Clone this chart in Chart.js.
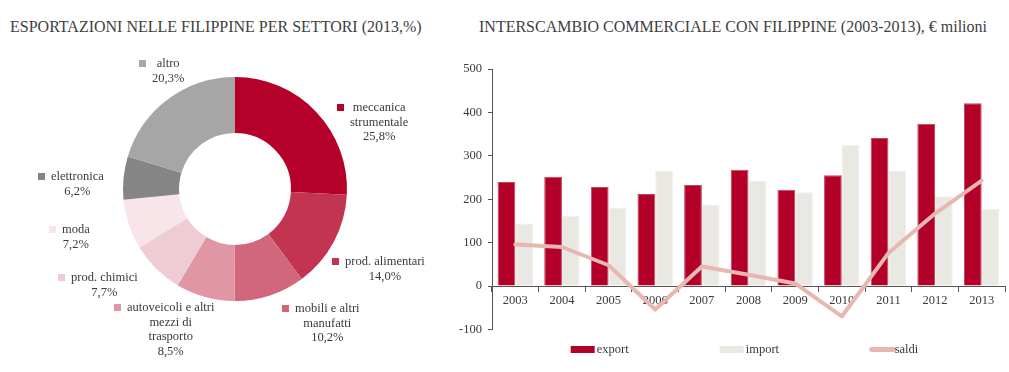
<!DOCTYPE html>
<html>
<head>
<meta charset="utf-8">
<script src="https://cdn.jsdelivr.net/npm/chart.js@4/dist/chart.umd.min.js"></script>
<style>
  body { margin: 0; background: #fff; font-family: "Liberation Serif", serif; }
  #wrap { position: relative; width: 1009px; height: 372px; overflow: hidden; }
  .titolo { position: absolute; top: 18px; font-size: 16px; line-height: 18px; color: #404040; white-space: nowrap; }
  #box1 { position: absolute; left: 0; top: 0; width: 470px; height: 372px; }
  #box2 { position: absolute; left: 440px; top: 0; width: 569px; height: 372px; }
</style>
</head>
<body>
<div id="wrap">
  <div class="titolo" style="left:10px">ESPORTAZIONI NELLE FILIPPINE PER SETTORI (2013,%)</div>
  <div class="titolo" style="left:479px">INTERSCAMBIO COMMERCIALE CON FILIPPINE (2003-2013), € milioni</div>
  <div id="box1"><canvas id="torta"></canvas></div>
  <div id="box2"><canvas id="barre"></canvas></div>
</div>
<script>
// Dati - torta settori
const settori = [
  ['meccanica', 'strumentale'],
  ['prod. alimentari'],
  ['mobili e altri', 'manufatti'],
  ['autoveicoli e altri', 'mezzi di', 'trasporto'],
  ['prod. chimici'],
  ['moda'],
  ['elettronica'],
  ['altro']
];
const quote = [25.8, 14.0, 10.2, 8.5, 7.7, 7.2, 6.2, 20.3];
const coloriSettori = ['#B5002A', '#C2344F', '#D1677B', '#E096A5', '#EFCCD3', '#F7E5E9', '#858585', '#A6A6A6'];

// Dati - interscambio
const anni = ['2003', '2004', '2005', '2006', '2007', '2008', '2009', '2010', '2011', '2012', '2013'];
const esportazioni = [240, 252, 228, 212, 233, 268, 222, 255, 341, 374, 421];
const importazioni = [144, 162, 180, 266, 188, 242, 216, 325, 265, 207, 178];
const saldi = [96, 90, 48, -54, 45, 26, 6, -70, 76, 167, 243];
const tickY = [-100, 0, 100, 200, 300, 400, 500];

// posizione etichette della torta (quadratino, prima riga)
const posEtichette = [[337, 108], [332, 262], [282, 309], [114, 308], [58, 278], [49, 230], [38, 177], [139, 64]];

const FONT = '"Liberation Serif", "Times New Roman", serif';
const TESTO = '#3a3a3a';

Chart.defaults.font.family = FONT;
Chart.defaults.animation = false;

// etichette attorno alla torta
const etichettePlugin = {
  id: 'etichette',
  afterDraw(chart) {
    const ctx = chart.ctx;
    const ds = chart.data.datasets[0];
    ctx.save();
    ctx.font = '12.5px ' + FONT;
    ctx.textBaseline = 'middle';
    ctx.textAlign = 'center';
    chart.data.labels.forEach((righe, i) => {
      const [qx, qy] = posEtichette[i];
      const linee = righe.concat(ds.data[i].toFixed(1).replace('.', ',') + '%');
      const largh = Math.max(...linee.map(l => ctx.measureText(l).width));
      ctx.fillStyle = ds.backgroundColor[i];
      ctx.fillRect(qx, qy - 4, 7, 7);
      const cx = qx + 7 + 6 + largh / 2;
      ctx.fillStyle = TESTO;
      linee.forEach((l, k) => ctx.fillText(l, cx, qy + k * 14.5));
    });
    ctx.restore();
  }
};

new Chart(document.getElementById('torta'), {
  type: 'doughnut',
  data: {
    labels: settori,
    datasets: [{
      data: quote,
      backgroundColor: coloriSettori,
      borderWidth: 0,
      hoverOffset: 0
    }]
  },
  options: {
    responsive: true,
    maintainAspectRatio: false,
    cutout: '50%',
    layout: { padding: { top: 77, bottom: 71, left: 0, right: 0 } },
    plugins: { legend: { display: false }, tooltip: { enabled: false } }
  },
  plugins: [etichettePlugin]
});

// legenda sotto il grafico a barre
const legendaPlugin = {
  id: 'legenda',
  afterDraw(chart) {
    const ctx = chart.ctx;
    const a = chart.chartArea;
    const voci = chart.data.datasets;
    const passo = 149;
    const y = a.bottom + 20;
    ctx.save();
    ctx.font = '12.5px ' + FONT;
    ctx.textBaseline = 'middle';
    ctx.textAlign = 'left';
    const ultima = 26 + ctx.measureText(voci[voci.length - 1].label).width;
    const x0 = (a.left + a.right) / 2 - (passo * (voci.length - 1) + ultima) / 2 - 4;
    voci.forEach((ds, i) => {
      const bx = x0 + i * passo;
      if (ds.type === 'line') {
        ctx.strokeStyle = ds.borderColor;
        ctx.lineWidth = 5;
        ctx.lineCap = 'round';
        ctx.beginPath();
        ctx.moveTo(bx + 3, y);
        ctx.lineTo(bx + 25, y);
        ctx.stroke();
      } else {
        ctx.fillStyle = ds.backgroundColor;
        ctx.fillRect(bx, y - 3.5, 24, 7);
      }
      ctx.fillStyle = TESTO;
      ctx.fillText(ds.label, bx + 26, y);
    });
    ctx.restore();
  }
};

new Chart(document.getElementById('barre'), {
  data: {
    labels: anni,
    datasets: [
      { type: 'bar', label: 'export', data: esportazioni, backgroundColor: '#B30029', borderColor: '#C8435D', borderWidth: { top: 1, left: 1, right: 1, bottom: 0 }, order: 1 },
      { type: 'bar', label: 'import', data: importazioni, backgroundColor: '#E9E8E3', borderColor: '#F0EFEB', borderWidth: { top: 1, left: 1, right: 1, bottom: 0 }, order: 1 },
      {
        type: 'line', label: 'saldi', data: saldi, borderColor: '#E9B7B1', borderWidth: 4,
        pointRadius: 0, tension: 0, borderJoinStyle: 'round', borderCapStyle: 'round', order: 0
      }
    ]
  },
  options: {
    responsive: true,
    maintainAspectRatio: false,
    layout: { padding: { top: 69, bottom: 42.5, left: 0, right: 4 } },
    datasets: { bar: { categoryPercentage: 0.76, barPercentage: 1.0 } },
    plugins: { legend: { display: false }, tooltip: { enabled: false } },
    scales: {
      x: {
        position: { y: 0 },
        offset: true,
        grid: { offset: true, drawOnChartArea: false, tickLength: 5, color: '#555' },
        border: { color: '#555' },
        ticks: { color: TESTO, font: { size: 12.5 }, padding: 2, maxRotation: 0 },
        afterFit: s => { s.height = 0; }
      },
      y: {
        min: -100,
        max: 500,
        afterBuildTicks: s => { s.ticks = tickY.map(v => ({ value: v })); },
        afterFit: s => { s.width = 52; },
        grid: { drawOnChartArea: false, tickLength: 4, color: '#555' },
        border: { color: '#555' },
        ticks: { color: TESTO, font: { size: 12.5 }, padding: 6 }
      }
    }
  },
  plugins: [legendaPlugin]
});
</script>
</body>
</html>
